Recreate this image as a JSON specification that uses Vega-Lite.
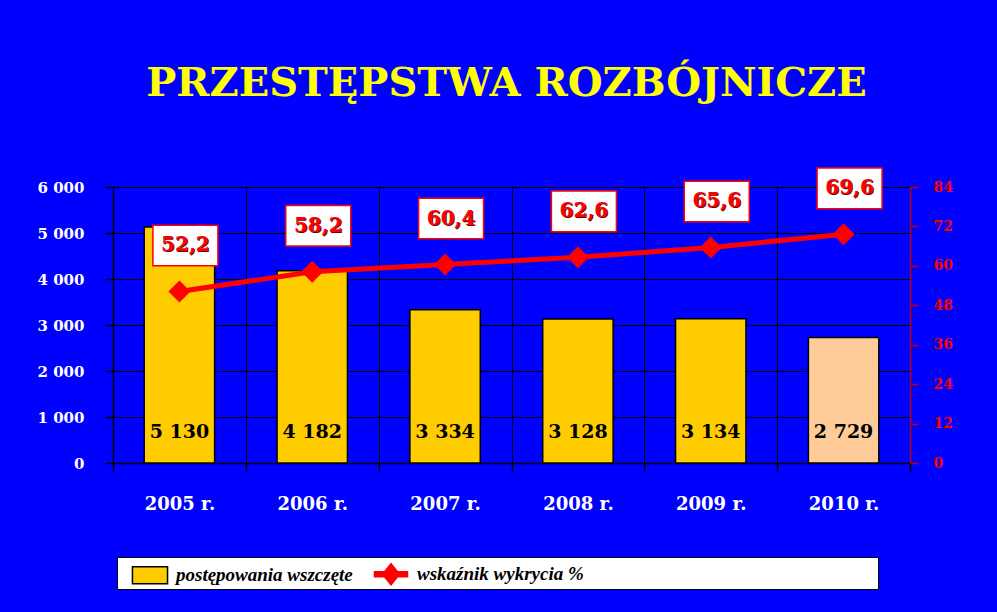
{
  "$schema": "https://vega.github.io/schema/vega-lite/v6.json",
  "width": 797,
  "height": 276,
  "autosize": {"type": "none"},
  "padding": {"left": 113, "top": 187, "right": 87, "bottom": 149},
  "background": "#0000FF",
  "config": {
    "locale": {"number": {"decimal": ",", "thousands": " ", "grouping": [3], "currency": ["", ""]}},
    "view": {"stroke": null},
    "font": "Liberation Serif",
    "axis": {"labelOverlap": false, "labelBound": false},
    "legend": {
      "orient": "none",
      "legendX": 4,
      "legendY": 370,
      "direction": "horizontal",
      "fillColor": "white",
      "strokeColor": "black",
      "padding": 1,
      "labelFont": "Liberation Serif",
      "labelFontSize": 19,
      "labelFontStyle": "italic",
      "labelFontWeight": "bold",
      "labelColor": "black",
      "labelLimit": 400,
      "symbolSize": 900,
      "symbolOffset": 16,
      "symbolStrokeWidth": 1.5,
      "symbolOpacity": 1,
      "columnPadding": 6,
      "labelOffset": 10,
      "titleOrient": "right",
      "titlePadding": 293,
      "titleFontSize": 12
    }
  },
  "title": {
    "text": "PRZESTĘPSTWA ROZBÓJNICZE",
    "font": "DejaVu Serif",
    "fontSize": 40,
    "fontWeight": "bold",
    "color": "#FFFF00",
    "anchor": "middle",
    "frame": "group",
    "baseline": "alphabetic",
    "offset": 29,
    "dx": -5
  },
  "datasets": {
    "main": [
      {"year": "2005 r.", "cases": 5130, "rate": 52.2},
      {"year": "2006 r.", "cases": 4182, "rate": 58.2},
      {"year": "2007 r.", "cases": 3334, "rate": 60.4},
      {"year": "2008 r.", "cases": 3128, "rate": 62.6},
      {"year": "2009 r.", "cases": 3134, "rate": 65.6},
      {"year": "2010 r.", "cases": 2729, "rate": 69.6}
    ],
    "legend": [
      {"series": "postępowania wszczęte"},
      {"series": "wskaźnik wykrycia %"}
    ]
  },
  "data": {"name": "main"},
  "layer": [
    {
      "layer": [
        {
          "mark": {"type": "bar", "width": {"band": 0.53}, "stroke": "black", "strokeWidth": 1.5},
          "encoding": {
            "x": {
              "field": "year", "type": "nominal", "sort": null,
              "scale": {"paddingInner": 0, "paddingOuter": 0},
              "axis": {
                "title": null, "labelColor": "white", "labelFont": "DejaVu Serif",
                "labelFontWeight": "bold", "labelFontSize": 18, "labelPadding": 23,
                "labelAngle": 0, "domainColor": "black", "domainWidth": 1.5,
                "tickColor": "black", "tickSize": 9, "tickWidth": 1.5,
                "tickBand": "extent", "grid": true, "gridColor": "black", "gridWidth": 1
              }
            },
            "y": {
              "field": "cases", "type": "quantitative",
              "scale": {"domain": [0, 6000], "nice": false},
              "axis": {
                "orient": "left", "title": null,
                "values": [0, 1000, 2000, 3000, 4000, 5000, 6000],
                "format": ",d", "labelColor": "white", "labelFont": "DejaVu Serif",
                "labelFontWeight": "bold", "labelFontSize": 15, "labelPadding": 21,
                "tickSize": 8, "tickColor": "black", "tickWidth": 1.5,
                "domainColor": "black", "domainWidth": 1.5,
                "grid": true, "gridColor": "black", "gridWidth": 1
              }
            },
            "fill": {"condition": {"test": "datum.year === '2010 r.'", "value": "#FFCC99"}, "value": "#FFCC00"}
          }
        },
        {
          "mark": {"type": "text", "font": "DejaVu Serif", "fontWeight": "bold", "fontSize": 19, "baseline": "middle", "dy": -31, "color": "black"},
          "encoding": {
            "x": {"field": "year", "type": "nominal", "sort": null},
            "y": {"datum": 0, "type": "quantitative", "title": null},
            "text": {"field": "cases", "type": "quantitative", "format": ",d"}
          }
        }
      ]
    },
    {
      "encoding": {
        "x": {"field": "year", "type": "nominal", "sort": null},
        "y": {
          "field": "rate", "type": "quantitative",
          "scale": {"domain": [0, 84], "nice": false},
          "axis": {
            "orient": "right", "title": null,
            "values": [0, 12, 24, 36, 48, 60, 72, 84],
            "labelColor": "#FF0000", "labelFont": "DejaVu Serif",
            "labelFontWeight": "bold", "labelFontSize": 14, "labelPadding": 15,
            "tickSize": 8, "tickColor": "#C00000", "tickWidth": 1.5,
            "domainColor": "#C00000", "domainWidth": 1.5, "grid": false
          }
        }
      },
      "layer": [
        {
          "mark": {"type": "line", "color": "#FF0000", "strokeWidth": 5}
        },
        {
          "mark": {"type": "point", "shape": "diamond", "filled": true, "color": "#FF0000", "size": 484, "opacity": 1}
        },
        {
          "mark": {"type": "point", "shape": "M-1,-0.625H1V0.625H-1Z", "filled": true, "fill": "white", "stroke": "#FF0000", "strokeWidth": 1.5, "size": 4225, "xOffset": 6, "yOffset": -46, "opacity": 1}
        },
        {
          "mark": {"type": "text", "font": "DejaVu Serif", "fontWeight": "bold", "fontSize": 20, "color": "#700000", "dx": 7, "dy": -45, "baseline": "middle"},
          "encoding": {
            "text": {"field": "rate", "type": "quantitative", "format": ".1f"}
          }
        },
        {
          "mark": {"type": "text", "font": "DejaVu Serif", "fontWeight": "bold", "fontSize": 20, "color": "#FF0000", "dx": 6, "dy": -46, "baseline": "middle"},
          "encoding": {
            "text": {"field": "rate", "type": "quantitative", "format": ".1f"}
          }
        }
      ]
    },
    {
      "data": {"name": "legend"},
      "mark": {"type": "point", "filled": true, "size": 0},
      "encoding": {
        "color": {
          "field": "series", "type": "nominal",
          "scale": {"domain": ["postępowania wszczęte", "wskaźnik wykrycia %"], "range": ["#FFCC00", "#FF0000"]},
          "legend": {"title": "\u00a0"}
        },
        "shape": {
          "field": "series", "type": "nominal",
          "scale": {"domain": ["postępowania wszczęte", "wskaźnik wykrycia %"], "range": ["M-1.17,-0.57H1.17V0.57H-1.17Z", "M-1.1,-0.17H-0.43L0,-0.7L0.43,-0.17H1.1V0.17H0.43L0,0.7L-0.43,0.17H-1.1Z"]},
          "legend": {"title": "\u00a0"}
        },
        "stroke": {
          "field": "series", "type": "nominal",
          "scale": {"domain": ["postępowania wszczęte", "wskaźnik wykrycia %"], "range": ["black", "#FF0000"]},
          "legend": {"title": "\u00a0"}
        }
      }
    }
  ],
  "resolve": {"scale": {"y": "independent"}}
}
